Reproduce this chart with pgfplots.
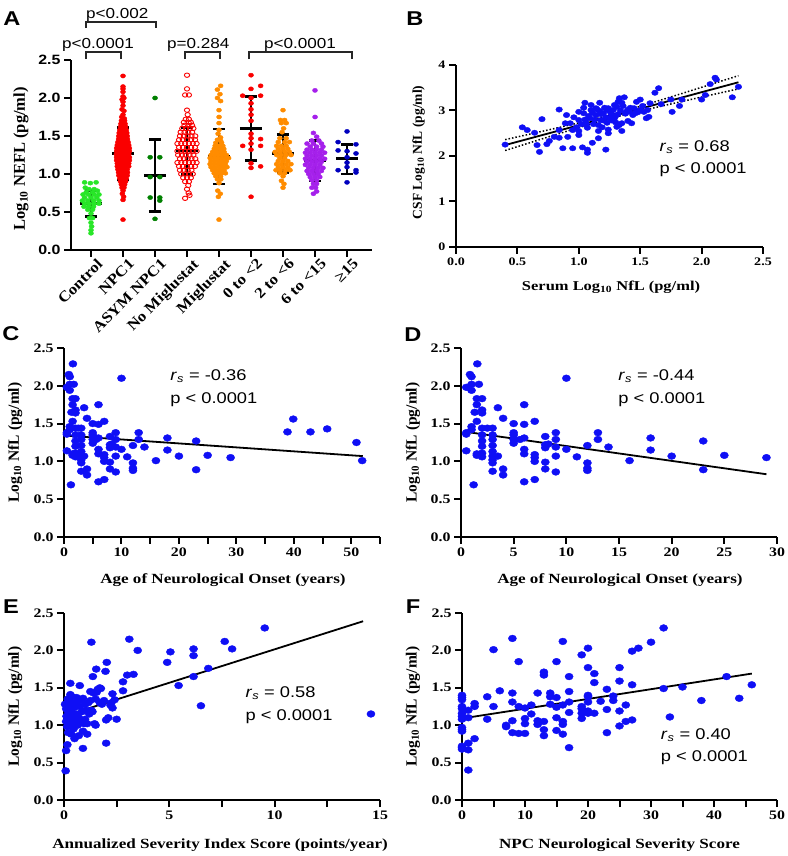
\documentclass[border=0pt]{standalone}
\usepackage{fontspec}
\setmainfont{Liberation Serif}[FakeStretch=1.22]
\newfontfamily\serifplain{Liberation Serif}
\newfontfamily\serifmid{Liberation Serif}[FakeStretch=1.12]
\newfontfamily\arial{Liberation Sans}[FakeStretch=1.18]
\usepackage{pgfplots}
\pgfplotsset{compat=1.18}
\usepackage{pgfplotstable}

\definecolor{ctrl}{RGB}{40,230,40}
\definecolor{npcred}{RGB}{250,0,0}
\definecolor{asym}{RGB}{0,128,0}
\definecolor{migor}{RGB}{255,140,0}
\definecolor{purp}{RGB}{165,32,235}
\definecolor{dblue}{RGB}{0,0,190}
\definecolor{sblue}{RGB}{15,15,245}

\pgfplotstableread{
x y
0.40 2.25
0.54 2.63
0.58 2.57
0.64 2.51
0.66 2.24
0.68 2.09
0.70 2.81
0.74 2.26
0.76 2.33
0.80 2.42
0.84 3.02
0.84 2.57
0.84 2.40
0.87 2.17
0.89 2.72
0.90 2.90
0.91 2.42
0.95 2.57
0.95 2.17
0.96 2.85
1.00 2.97
1.00 2.79
1.00 2.55
1.00 2.46
1.03 2.19
1.04 3.06
1.04 2.94
1.05 3.17
1.06 2.72
1.06 2.68
1.07 2.14
1.07 2.07
1.09 2.83
1.10 3.12
1.10 3.01
1.11 2.29
1.12 2.70
1.14 3.05
1.14 2.90
1.16 2.68
1.16 2.39
1.17 3.17
1.17 2.99
1.18 2.79
1.20 2.94
1.21 3.06
1.22 2.14
1.23 2.73
1.23 3.01
1.24 2.50
1.24 2.58
1.25 2.83
1.27 2.90
1.28 3.01
1.29 2.83
1.31 2.64
1.31 3.08
1.32 2.92
1.32 3.19
1.33 3.27
1.35 2.55
1.35 3.17
1.35 2.72
1.37 3.29
1.39 2.97
1.40 2.77
1.42 3.06
1.43 2.72
1.46 2.94
1.47 3.19
1.50 3.01
1.50 3.24
1.52 3.10
1.55 2.83
1.56 3.01
1.57 2.86
1.58 3.16
1.62 3.39
1.65 3.49
1.67 3.14
1.75 3.24
1.76 2.97
1.82 3.10
1.84 3.24
2.00 3.24
2.03 3.34
2.07 3.58
2.11 3.72
2.12 3.68
2.25 3.29
2.30 3.52
1.02 2.70
1.08 2.88
1.13 2.80
1.18 2.92
1.22 2.85
1.26 2.95
1.30 2.88
1.34 3.00
1.38 2.93
1.41 2.98
1.44 2.90
1.48 2.96
1.33 2.68
1.27 2.78
1.15 3.02
1.11 2.95
1.05 2.80
0.98 2.63
0.93 2.72
1.36 3.10
1.40 3.02
1.29 3.12
1.24 3.05
1.19 2.63
1.53 2.97
1.45 3.05
1.16 2.55
1.07 2.62
1.20 2.78
1.30 2.74
}\csfdata

\pgfplotstableread{
x y
0.5 1.98
0.5 1.36
0.5 1.38
0.5 1.14
0.85 2.15
1.0 2.12
1.0 1.94
1.0 2.02
1.0 1.46
1.0 1.42
1.2 0.69
1.3 1.65
1.55 2.29
1.5 1.83
1.5 1.75
1.5 1.53
1.5 1.10
1.5 1.08
1.7 2.02
2 1.83
2 1.68
2 1.64
2 1.44
2 1.35
2 1.27
2 1.20
2 1.11
2 1.06
2.5 1.44
3 1.44
3 1.35
3 1.29
3 1.21
3 1.13
3 1.07
3 1.02
3 0.98
3 0.87
3.5 1.71
3.5 1.07
4 1.57
4 0.90
4 0.82
5 1.50
5 1.38
5 1.35
5 1.29
5 1.24
5.6 1.29
6 1.75
6 1.49
6 1.31
6 1.16
6 1.10
6 0.73
7 1.53
7 1.09
7 1.05
7 1.00
7 0.76
8 1.33
8 1.22
8 1.18
8 0.99
8 0.90
8.3 1.23
9 1.38
9 1.29
9 1.19
9 1.07
9 0.86
10 2.10
10 1.16
11 1.06
12 1.21
12 0.98
12 0.91
12 0.88
13 1.38
13 1.29
14 1.19
16 1.01
18 1.31
18 1.15
20 1.07
23 1.27
23 0.89
25 1.08
29 1.05
38.9 1.39
39.9 1.56
42.9 1.39
45.8 1.43
50.9 1.25
51.9 1.01
}\onsetdata

\pgfplotstableread{
x y
0.08 0.39
0.10 0.66
0.16 0.74
0.30 1.41
0.30 1.56
0.75 1.53
0.90 0.69
1.30 2.11
1.37 1.65
1.53 1.75
1.70 1.50
1.97 1.72
2.03 1.84
2.00 0.76
2.30 1.42
2.50 1.08
2.80 1.58
2.80 1.46
3.00 1.67
3.10 2.15
3.30 1.68
3.50 2.00
4.90 1.84
5.05 1.98
5.44 1.53
6.15 2.02
6.15 1.93
6.15 1.65
6.50 1.26
6.85 1.76
7.63 2.12
7.98 2.02
9.53 2.30
14.57 1.15
0.05 1.28
0.10 1.22
0.10 1.05
0.12 1.12
0.15 0.98
0.18 1.35
0.20 1.18
0.20 0.90
0.25 1.25
0.28 1.08
0.30 1.30
0.30 1.00
0.35 0.88
0.35 1.20
0.40 1.38
0.40 1.12
0.45 0.95
0.50 1.24
0.50 1.05
0.50 0.82
0.55 1.30
0.60 1.15
0.60 1.37
0.65 1.00
0.70 1.10
0.70 0.86
0.75 1.25
0.75 1.33
0.80 1.05
0.85 1.18
0.90 0.92
0.90 1.36
0.95 1.02
1.00 1.28
1.00 1.08
1.05 1.20
1.10 0.88
1.10 1.02
1.15 1.30
1.20 1.15
1.25 1.45
1.30 1.20
1.35 1.18
1.45 1.02
1.50 1.00
1.50 1.35
1.60 1.48
1.70 1.30
1.75 1.49
1.80 1.28
1.90 1.33
2.00 1.07
2.10 1.10
2.20 1.27
2.30 1.23
2.40 1.34
1.40 1.43
1.55 1.44
2.25 1.30
1.25 1.33
}\asisdata

\pgfplotstableread{
x y
0 1.40
0 1.37
0 1.34
0 1.25
0 1.22
0 1.16
0 1.12
0 1.08
0 0.97
0 0.94
0 0.92
0 0.72
0 0.70
0 0.68
1 0.40
1 0.67
1 0.76
1 1.10
1 1.20
2 0.82
2 1.29
2 1.25
4 1.38
4 1.08
5 2.01
5 1.25
6 1.46
7 1.00
7 0.98
8 2.16
8 1.43
8 1.31
8 1.06
8 0.90
9 1.85
9 1.25
9 0.89
10 1.23
10 1.09
10 1.02
10 0.89
11 1.27
11 1.15
12 1.43
12 1.06
12 1.01
13 1.71
13 1.67
13 1.05
13 0.94
13 0.86
14 1.43
14 1.38
14 1.28
15 1.85
15 1.37
15 1.24
15 1.10
15 0.93
16 2.12
16 1.27
16 1.05
16 1.01
16 0.88
17 1.65
17 1.45
17 1.31
17 1.17
17 0.70
19 1.94
19 1.25
19 1.22
19 1.16
19 1.09
20 2.03
20 1.77
20 1.40
20 1.38
20 1.31
20 1.19
20 1.16
21 1.69
21 1.57
21 1.16
22 1.32
23 1.48
23 1.21
23 0.90
24 1.39
24 1.33
25 1.77
25 1.59
25 1.19
25 0.99
26 1.27
26 1.05
27 1.99
27 1.54
27 1.07
28 2.03
30 2.11
32 2.30
32 1.49
33 1.11
35 1.51
38 1.33
42 1.65
44 1.36
46 1.54
}\npcdata

\tikzset{
  ann/.style={anchor=west, font=\arial\fontsize{15.5}{15.5}\selectfont},
  pval/.style={anchor=base, font=\arial\fontsize{14.5}{14.5}\selectfont},
  plabel/.style={font=\arial\bfseries\fontsize{20}{20}\selectfont},
}
\pgfplotsset{
  panel/.style={
    scale only axis,
    axis lines*=left,
    axis line style={line width=2.2pt,-},
    tick style={line width=2pt,black},
    tick align=outside,
    major tick length=7pt, minor tick length=7pt,
    tick label style={font=\bfseries\fontsize{13}{13}\selectfont},
    xlabel style={font=\bfseries\fontsize{14}{16}\selectfont},
    ylabel style={font=\serifplain\bfseries\fontsize{15.5}{17}\selectfont},
    /pgf/number format/assume math mode=true,
    clip=false,
  },
  ylog/.style={ymin=0, ymax=2.5, ytick={0,0.5,1,1.5,2,2.5},
    yticklabel style={/pgf/number format/fixed, /pgf/number format/fixed zerofill, /pgf/number format/precision=1}},
  dots/.style={only marks, mark=*, mark size=3.4pt,
    mark options={draw=sblue, fill=sblue, xscale=1.2}},
  fitline/.style={black, line width=1.8pt, no marks},
  grp/.style={only marks, mark=*, mark size=2.1pt, mark options={draw=#1, fill=#1, xscale=1.2}},
}

\begin{document}
\begin{tikzpicture}
\path[use as bounding box] (0,0) rectangle (787pt,856pt);

% ---------------- Panel A ----------------
\begin{axis}[panel, at={(71pt,606pt)}, anchor=south west, width=301pt, height=190pt,
  xmin=-0.625, xmax=8.78, ylog,
  yticklabel style={font=\arial\bfseries\fontsize{13.5}{13.5}\selectfont},
  xtick={0,1,2,3,4,5,6,7,8},
  xticklabels={Control,NPC1,ASYM NPC1,No Miglustat,Miglustat,0 to <2,2 to <6,6 to <15,≥15},
  xticklabel style={rotate=45, anchor=north east, inner sep=1pt, xshift=4pt, yshift=-3pt,
    font=\serifmid\bfseries\fontsize{15}{15}\selectfont},
  ylabel={Log\textsubscript{10} NEFL (pg/ml)},
  ylabel style={at={(axis description cs:-0.166,0.48)}, anchor=center,
    font=\serifplain\bfseries\fontsize{16.5}{18}\selectfont},
]
\addplot[grp=ctrl] coordinates {(-0.2,0.89)(0.16,0.89)(-0.02,0.88)(-0.18,0.82)(-0.06,0.80)(0.1,0.80)(0.2,0.78)(-0.15,0.76)(0.05,0.76)(-0.25,0.73)(-0.08,0.73)(0.1,0.73)(0.25,0.73)(-0.2,0.69)(0,0.69)(0.18,0.69)(-0.27,0.65)(-0.1,0.65)(0.08,0.65)(0.25,0.65)(-0.2,0.61)(-0.05,0.61)(0.1,0.61)(0.25,0.61)(-0.22,0.57)(-0.08,0.57)(0.08,0.57)(-0.1,0.53)(0.05,0.53)(0,0.48)(-0.05,0.42)(0.05,0.42)(0,0.36)(0.02,0.31)(0,0.26)(0,0.22)};
\addplot[grp=npcred] coordinates {(1,2.29)(1,2.15)(1,2.12)(1,2.08)(1,2.02)(0.97,1.98)(1.03,2.0)(1,1.95)(1,1.90)(0.97,1.85)(1.03,1.83)(1,1.78)(0.96,1.75)(1.04,1.73)
(0.95,1.70)(1,1.70)(1.05,1.70)(0.935,1.66)(1.01,1.66)(1.065,1.66)(0.92,1.62)(1,1.62)(1.08,1.62)
(0.9,1.58)(0.97,1.58)(1.03,1.58)(1.1,1.58)(0.88,1.54)(0.96,1.54)(1.04,1.54)(1.12,1.54)
(0.87,1.50)(0.935,1.50)(1,1.50)(1.065,1.50)(1.13,1.50)(0.86,1.46)(0.93,1.46)(1,1.46)(1.07,1.46)(1.14,1.46)
(0.84,1.42)(0.9,1.42)(0.97,1.42)(1.03,1.42)(1.1,1.42)(1.16,1.42)(0.82,1.38)(0.9,1.38)(0.97,1.38)(1.03,1.38)(1.1,1.38)(1.18,1.38)
(0.8,1.34)(0.88,1.34)(0.96,1.34)(1.04,1.34)(1.12,1.34)(1.2,1.34)(0.8,1.30)(0.88,1.30)(0.96,1.30)(1.04,1.30)(1.12,1.30)(1.2,1.30)
(0.79,1.26)(0.87,1.26)(0.95,1.26)(1.03,1.26)(1.1,1.26)(1.18,1.26)(0.8,1.22)(0.88,1.22)(0.96,1.22)(1.04,1.22)(1.12,1.22)(1.2,1.22)
(0.8,1.18)(0.88,1.18)(0.96,1.18)(1.04,1.18)(1.12,1.18)(1.2,1.18)(0.82,1.14)(0.9,1.14)(0.97,1.14)(1.03,1.14)(1.1,1.14)(1.18,1.14)
(0.82,1.10)(0.9,1.10)(0.97,1.10)(1.03,1.10)(1.1,1.10)(1.18,1.10)(0.84,1.06)(0.91,1.06)(0.98,1.06)(1.05,1.06)(1.13,1.06)
(0.86,1.02)(0.93,1.02)(1,1.02)(1.07,1.02)(1.14,1.02)(0.87,0.98)(0.955,0.98)(1.045,0.98)(1.13,0.98)
(0.9,0.94)(0.97,0.94)(1.03,0.94)(1.1,0.94)(0.92,0.90)(1,0.90)(1.08,0.90)(0.95,0.86)(1.05,0.86)(0.97,0.82)(1.03,0.82)
(1,0.78)(0.98,0.74)(1.02,0.70)(1,0.66)(1,0.40)};
\addplot[grp=asym] coordinates {(2,2.00)(1.85,1.22)(2.15,1.22)(1.85,0.96)(2.15,0.96)(1.85,0.69)(2.15,0.69)(2.15,0.65)(2,0.41)};
\addplot[only marks, mark=o, mark size=2.2pt, mark options={draw=npcred, fill=white, line width=0.9pt, xscale=1.2}] coordinates {(3,2.30)(3,2.12)(2.94,2.04)(3.06,2.04)(3,1.84)(3.02,1.78)(2.96,1.72)(3.06,1.72)
(2.9,1.68)(3.05,1.68)(3.12,1.68)(2.92,1.64)(3.04,1.64)(3.16,1.64)(2.85,1.60)(2.97,1.60)(3.09,1.60)(3.2,1.60)
(2.8,1.55)(2.92,1.55)(3.04,1.55)(3.16,1.55)(2.78,1.50)(2.9,1.50)(3.02,1.50)(3.14,1.50)(3.26,1.50)
(2.75,1.45)(2.87,1.45)(3,1.45)(3.13,1.45)(3.25,1.45)(2.7,1.40)(2.82,1.40)(2.94,1.40)(3.06,1.40)(3.18,1.40)(3.3,1.40)
(2.75,1.35)(2.87,1.35)(3,1.35)(3.13,1.35)(3.25,1.35)(2.7,1.30)(2.82,1.30)(2.94,1.30)(3.06,1.30)(3.18,1.30)(3.3,1.30)
(2.72,1.25)(2.84,1.25)(2.96,1.25)(3.08,1.25)(3.2,1.25)(2.78,1.20)(2.9,1.20)(3.02,1.20)(3.14,1.20)(3.26,1.20)
(2.7,1.15)(2.82,1.15)(2.94,1.15)(3.06,1.15)(3.18,1.15)(3.3,1.15)(2.75,1.10)(2.87,1.10)(3,1.10)(3.13,1.10)(3.25,1.10)
(2.78,1.05)(2.9,1.05)(3.02,1.05)(3.14,1.05)(2.82,1.00)(2.94,1.00)(3.06,1.00)(3.18,1.00)
(2.88,0.95)(3,0.95)(3.12,0.95)(2.94,0.90)(3.06,0.90)(3.04,0.85)(3,0.80)(3.05,0.75)(3.08,0.72)(2.94,0.68)};
\addplot[grp=migor] coordinates {(4.05,2.16)(3.95,2.11)(4.03,2.05)(3.95,2.00)(4.05,1.96)(4,1.84)(4,1.75)(4,1.67)(4,1.58)(3.97,1.53)(4.05,1.48)(3.95,1.45)(4.05,1.44)
(3.9,1.41)(4.08,1.41)(3.88,1.37)(4,1.37)(4.12,1.37)(3.85,1.33)(3.95,1.33)(4.05,1.33)(4.15,1.33)
(3.8,1.29)(3.92,1.29)(4.04,1.29)(4.16,1.29)(3.75,1.25)(3.87,1.25)(3.99,1.25)(4.11,1.25)(4.23,1.25)
(3.72,1.21)(3.84,1.21)(3.96,1.21)(4.08,1.21)(4.2,1.21)(4.3,1.21)(3.75,1.17)(3.87,1.17)(3.99,1.17)(4.11,1.17)(4.23,1.17)
(3.72,1.13)(3.84,1.13)(3.96,1.13)(4.08,1.13)(4.2,1.13)(3.75,1.09)(3.87,1.09)(4,1.09)(4.13,1.09)(4.25,1.09)
(3.8,1.05)(3.92,1.05)(4.04,1.05)(4.16,1.05)(3.85,1.01)(3.97,1.01)(4.09,1.01)(4.2,1.01)
(3.9,0.97)(4.05,0.97)(3.95,0.93)(4.06,0.93)(4,0.88)(3.96,0.78)(4.04,0.74)(3.98,0.70)(4,0.40)};
\addplot[grp=npcred] coordinates {(5,2.30)(5.3,2.16)(5,2.12)(4.74,2.03)(5.3,2.03)(5,2.0)(5,1.93)(5,1.85)(5,1.78)(5,1.70)(5,1.53)(5,1.47)(5,1.40)(5.3,1.46)(4.74,1.37)(5.3,1.37)(5,1.32)(5,1.14)(5,1.08)(5.3,1.10)(5,0.70)};
\addplot[grp=migor] coordinates {(6,1.84)(5.92,1.71)(6.05,1.71)(6.1,1.67)(5.95,1.67)(6.02,1.60)(5.97,1.55)
(5.9,1.47)(6.1,1.47)(5.85,1.42)(6.05,1.42)(6.2,1.42)(5.8,1.37)(5.95,1.37)(6.1,1.37)(5.85,1.33)(6,1.33)(6.15,1.33)
(5.75,1.29)(5.9,1.29)(6.05,1.29)(6.2,1.29)(5.8,1.25)(5.95,1.25)(6.1,1.25)(6.25,1.25)(5.9,1.21)(6.05,1.21)
(5.85,1.17)(6,1.17)(6.15,1.17)(5.8,1.13)(5.95,1.13)(6.1,1.13)(6.25,1.13)(5.85,1.09)(6,1.09)(6.15,1.09)
(5.78,1.05)(5.92,1.05)(6.08,1.05)(6.22,1.05)(5.9,1.01)(6.05,1.01)(6,0.97)(5.95,0.91)(6.03,0.87)(6,0.82)};
\addplot[grp=purp] coordinates {(7,2.10)(7,1.75)(6.95,1.54)(7.05,1.49)(6.9,1.44)(7.12,1.44)
(6.75,1.40)(6.95,1.40)(7.2,1.40)(6.85,1.36)(7.05,1.36)(7.25,1.36)(6.75,1.32)(6.9,1.32)(7.05,1.32)(7.2,1.32)
(6.7,1.28)(6.85,1.28)(7,1.28)(7.15,1.28)(7.3,1.28)(6.75,1.24)(6.9,1.24)(7.05,1.24)(7.2,1.24)
(6.7,1.20)(6.85,1.20)(7,1.20)(7.15,1.20)(7.3,1.20)(6.75,1.16)(6.9,1.16)(7.05,1.16)(7.2,1.16)
(6.7,1.12)(6.85,1.12)(7,1.12)(7.15,1.12)(6.8,1.08)(6.95,1.08)(7.1,1.08)(7.25,1.08)
(6.75,1.04)(6.9,1.04)(7.05,1.04)(7.2,1.04)(6.8,1.00)(6.95,1.00)(7.1,1.00)(6.85,0.96)(7,0.96)(7.15,0.96)
(6.9,0.92)(7.05,0.92)(6.95,0.87)(7.05,0.87)(6.9,0.82)(7.02,0.82)(7.05,0.77)(6.95,0.74)};
\addplot[grp=dblue] coordinates {(8,1.56)(7.72,1.42)(8.28,1.39)(7.72,1.31)(8.28,1.27)(8,1.22)(8,1.15)(7.72,1.05)(8,1.09)(8.28,1.05)(8.28,1.02)(8,0.89)(8,1.30)};
% mean and SD bars
\addplot[black, line width=2.6pt, no marks, unbounded coords=jump] coordinates {
(0,0.44)(0,0.78)(nan,nan)(-0.19,0.78)(0.19,0.78)(nan,nan)(-0.19,0.44)(0.19,0.44)(nan,nan)(-0.35,0.61)(0.35,0.61)(nan,nan)
(1,0.92)(1,1.61)(nan,nan)(0.81,1.61)(1.19,1.61)(nan,nan)(0.81,0.92)(1.19,0.92)(nan,nan)(0.65,1.27)(1.35,1.27)(nan,nan)
(2,0.51)(2,1.45)(nan,nan)(1.81,1.45)(2.19,1.45)(nan,nan)(1.81,0.51)(2.19,0.51)(nan,nan)(1.65,0.98)(2.35,0.98)(nan,nan)
(3,0.99)(3,1.61)(nan,nan)(2.81,1.61)(3.19,1.61)(nan,nan)(2.81,0.99)(3.19,0.99)(nan,nan)(2.65,1.30)(3.35,1.30)(nan,nan)
(4,0.87)(4,1.59)(nan,nan)(3.81,1.59)(4.19,1.59)(nan,nan)(3.81,0.87)(4.19,0.87)(nan,nan)(3.65,1.23)(4.35,1.23)(nan,nan)
(5,1.18)(5,2.02)(nan,nan)(4.81,2.02)(5.19,2.02)(nan,nan)(4.81,1.18)(5.19,1.18)(nan,nan)(4.65,1.60)(5.35,1.60)(nan,nan)
(6,1.02)(6,1.52)(nan,nan)(5.81,1.52)(6.19,1.52)(nan,nan)(5.81,1.02)(6.19,1.02)(nan,nan)(5.65,1.27)(6.35,1.27)(nan,nan)
(7,0.91)(7,1.44)(nan,nan)(6.81,1.44)(7.19,1.44)(nan,nan)(6.81,0.91)(7.19,0.91)(nan,nan)(6.65,1.18)(7.35,1.18)(nan,nan)
(8,1.00)(8,1.39)(nan,nan)(7.81,1.39)(8.19,1.39)(nan,nan)(7.81,1.00)(8.19,1.00)(nan,nan)(7.65,1.20)(8.35,1.20)};
% significance brackets
\draw[line width=2pt, black!85] (axis cs:-0.15,2.51) -- (axis cs:-0.15,2.61) -- (axis cs:0.95,2.61) -- (axis cs:0.95,2.51);
\draw[line width=2pt, black!85] (axis cs:-0.15,2.92) -- (axis cs:-0.15,3.00) -- (axis cs:2.03,3.00) -- (axis cs:2.03,2.92);
\draw[line width=2pt, black!85] (axis cs:2.94,2.51) -- (axis cs:2.94,2.61) -- (axis cs:4.03,2.61) -- (axis cs:4.03,2.51);
\draw[line width=2pt, black!85] (axis cs:4.95,2.51) -- (axis cs:4.95,2.61) -- (axis cs:8.15,2.61) -- (axis cs:8.15,2.51);
\node[pval] at (axis cs:0.22,2.655) {p<0.0001};
\node[pval] at (axis cs:0.82,3.05) {p<0.002};
\node[pval] at (axis cs:3.35,2.655) {p=0.284};
\node[pval] at (axis cs:6.53,2.655) {p<0.0001};
\end{axis}

% ---------------- Panel B ----------------
\begin{axis}[panel, at={(456pt,609pt)}, anchor=south west, width=307pt, height=182pt,
  xmin=0, xmax=2.5, ymin=0, ymax=4,
  xtick={0,0.5,1,1.5,2,2.5}, ytick={0,1,2,3,4},
  tick label style={font=\bfseries\fontsize{11.5}{11.5}\selectfont},
  xticklabel style={/pgf/number format/fixed, /pgf/number format/fixed zerofill, /pgf/number format/precision=1},
  xlabel={Serum Log\textsubscript{10} NfL (pg/ml)},
  xlabel style={at={(axis description cs:0.505,-0.22)}, anchor=center, font=\bfseries\fontsize{13.5}{15}\selectfont},
  ylabel={CSF Log\textsubscript{10} NfL (pg/ml)},
  ylabel style={at={(axis description cs:-0.122,0.52)}, anchor=center, font=\serifplain\bfseries\fontsize{13.5}{15}\selectfont},
]
\addplot[only marks, mark=*, mark size=2.7pt, mark options={draw=sblue, fill=sblue, xscale=1.22}] table[x=x,y=y] {\csfdata};
\addplot[fitline] coordinates {(0.4,2.24)(2.3,3.62)};
\addplot[black, line width=1.5pt, dotted, smooth, no marks] coordinates {(0.4,2.36)(0.7,2.541)(1.0,2.728)(1.25,2.897)(1.5,3.091)(1.8,3.340)(2.1,3.595)(2.3,3.765)};
\addplot[black, line width=1.5pt, dotted, smooth, no marks] coordinates {(0.4,2.12)(0.7,2.375)(1.0,2.624)(1.25,2.817)(1.5,2.987)(1.8,3.174)(2.1,3.355)(2.3,3.475)};
\node[ann] at (axis cs:1.63,2.20) {\textit{r}\textsubscript{\textit{s}} = 0.68};
\node[ann] at (axis cs:1.63,1.69) {p < 0.0001};
\end{axis}

% ---------------- Panel C ----------------
\begin{axis}[panel, at={(64pt,319pt)}, anchor=south west, width=316pt, height=189pt,
  xmin=0, xmax=55, ylog,
  xtick={0,10,20,30,40,50}, minor xtick={5,15,25,35,45,55},
  xlabel={Age of Neurological Onset (years)},
  xlabel style={at={(axis description cs:0.503,-0.228)}, anchor=center},
  ylabel={Log\textsubscript{10} NfL (pg/ml)},
  ylabel style={at={(axis description cs:-0.155,0.5)}, anchor=center},
]
\addplot[dots] table[x=x,y=y] {\onsetdata};
\addplot[fitline] coordinates {(0.5,1.34)(52,1.07)};
\node[ann] at (axis cs:17.9,2.13) {\textit{r}\textsubscript{\textit{s}} = -0.36};
\node[ann] at (axis cs:17.9,1.81) {p < 0.0001};
\end{axis}

% ---------------- Panel D ----------------
\begin{axis}[panel, at={(461pt,319pt)}, anchor=south west, width=316pt, height=189pt,
  xmin=0, xmax=30, ylog,
  xtick={0,5,10,15,20,25,30},
  xlabel={Age of Neurological Onset (years)},
  xlabel style={at={(axis description cs:0.503,-0.228)}, anchor=center},
  ylabel={Log\textsubscript{10} NfL (pg/ml)},
  ylabel style={at={(axis description cs:-0.152,0.5)}, anchor=center},
]
\addplot[dots, restrict x to domain=0:30] table[x=x,y=y] {\onsetdata};
\addplot[fitline] coordinates {(0.5,1.39)(29,0.83)};
\node[ann] at (axis cs:14.6,2.13) {\textit{r}\textsubscript{\textit{s}} = -0.44};
\node[ann] at (axis cs:14.6,1.81) {p < 0.0001};
\end{axis}

% ---------------- Panel E ----------------
\begin{axis}[panel, at={(64pt,56pt)}, anchor=south west, width=316pt, height=187pt,
  xmin=0, xmax=15, ylog,
  xtick={0,5,10,15}, minor xtick={2.5,7.5,12.5},
  xlabel={Annualized Severity Index Score (points/year)},
  xlabel style={at={(axis description cs:0.494,-0.24)}, anchor=center},
  ylabel={Log\textsubscript{10} NfL (pg/ml)},
  ylabel style={at={(axis description cs:-0.155,0.5)}, anchor=center},
]
\addplot[dots] table[x=x,y=y] {\asisdata};
\addplot[fitline] coordinates {(0.05,1.125)(14.2,2.39)};
\node[ann] at (axis cs:8.45,1.43) {\textit{r}\textsubscript{\textit{s}} = 0.58};
\node[ann] at (axis cs:8.45,1.11) {p < 0.0001};
\end{axis}

% ---------------- Panel F ----------------
\begin{axis}[panel, at={(462pt,56pt)}, anchor=south west, width=315pt, height=187pt,
  xmin=0, xmax=50, ylog,
  xtick={0,10,20,30,40,50}, minor xtick={5,15,25,35,45},
  xlabel={NPC Neurological Severity Score},
  xlabel style={at={(axis description cs:0.5,-0.24)}, anchor=center},
  ylabel={Log\textsubscript{10} NfL (pg/ml)},
  ylabel style={at={(axis description cs:-0.156,0.5)}, anchor=center},
]
\addplot[dots] table[x=x,y=y] {\npcdata};
\addplot[fitline] coordinates {(0,1.09)(46,1.69)};
\node[ann] at (axis cs:31.0,0.87) {\textit{r}\textsubscript{\textit{s}} = 0.40};
\node[ann] at (axis cs:31.0,0.56) {p < 0.0001};
\end{axis}

% panel letters
\node[plabel] at (12pt,837pt) {A};
\node[plabel] at (415pt,837pt) {B};
\node[plabel] at (11pt,522pt) {C};
\node[plabel] at (413pt,521pt) {D};
\node[plabel] at (11pt,249pt) {E};
\node[plabel] at (413pt,249pt) {F};
\end{tikzpicture}
\end{document}
